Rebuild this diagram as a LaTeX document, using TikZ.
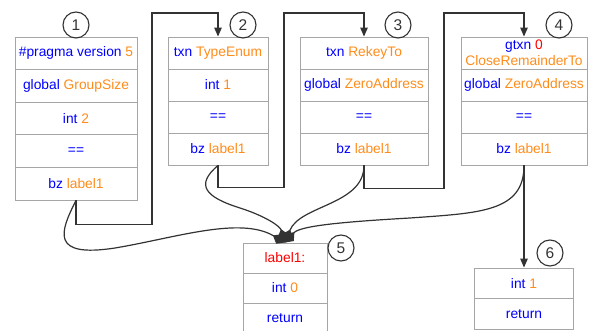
\documentclass[tikz,border=0pt]{standalone}
\usepackage{fontspec}
\setmainfont{Liberation Sans}
\usetikzlibrary{arrows.meta}
\definecolor{kwblue}{HTML}{0000FF}
\definecolor{litorange}{HTML}{FF8C1A}
\definecolor{lblred}{HTML}{FF0000}
\definecolor{edgegray}{HTML}{333333}
\definecolor{boxgray}{HTML}{A6A6A6}
\newcommand{\kw}[1]{\textcolor{kwblue}{#1}}
\newcommand{\lit}[1]{\textcolor{litorange}{#1}}
\newcommand{\lbl}[1]{\textcolor{lblred}{#1}}
\tikzset{>/.tip={Triangle[length=9pt,width=7.5pt]},
  row/.style={draw=boxgray, line width=0.9pt, inner sep=0pt, align=center,
    font=\fontsize{13.8}{15.5}\selectfont},
  numc/.style={circle, draw=edgegray, line width=1.1pt, minimum size=26, inner sep=0pt,
    text=edgegray, font=\fontsize{15.5}{17}\selectfont},
  flow/.style={draw=edgegray, line width=1.2pt, ->},
  merge/.style={draw=edgegray, line width=1.2pt, -{Diamond[length=14pt,width=11pt]}}}

\begin{document}
\begin{tikzpicture}[x=1pt, y=-1pt]
\useasboundingbox (0,0) rectangle (590,331);
\foreach \txt [count=\i] in {{\kw{\#pragma version} \lit{5}}, {\kw{global} \lit{GroupSize}},
  {\kw{int} \lit{2}}, \kw{==}, {\kw{bz} \lit{label1}}}
  \node[row, minimum width=122, minimum height=32.6] (p1-\i) at (76,{37+32.6*(\i-0.5)}) {\txt};
\foreach \txt [count=\i] in {{\kw{txn} \lit{TypeEnum}}, {\kw{int} \lit{1}}, \kw{==}, {\kw{bz} \lit{label1}}}
  \node[row, minimum width=100, minimum height=32] (p2-\i) at (218,{37+32*(\i-0.5)}) {\txt};
\foreach \txt [count=\i] in {{\kw{txn} \lit{RekeyTo}}, {\kw{global} \lit{ZeroAddress}}, \kw{==}, {\kw{bz} \lit{label1}}}
  \node[row, minimum width=128, minimum height=32] (p3-\i) at (364,{37+32*(\i-0.5)}) {\txt};
\foreach \txt [count=\i] in {{\kw{gtxn} \lbl{0}\\\lit{CloseRemainderTo}}, {\kw{global} \lit{ZeroAddress}}, \kw{==}, {\kw{bz} \lit{label1}}}
  \node[row, minimum width=126, minimum height=32] (p4-\i) at (524,{37+32*(\i-0.5)}) {\txt};
\foreach \txt [count=\i] in {\lbl{label1:}, {\kw{int} \lit{0}}, \kw{return}}
  \node[row, minimum width=84, minimum height=30] (p5-\i) at (285,{243+30*(\i-0.5)}) {\txt};
\foreach \txt [count=\i] in {{\kw{int} \lit{1}}, \kw{return}}
  \node[row, minimum width=99, minimum height=30.5] (p6-\i) at (524,{268+30.5*(\i-0.5)}) {\txt};
\foreach \n/\x/\y in {1/76/25, 2/243/25, 3/398/25, 4/559/25, 5/341/248, 6/550/253}
  \node[numc] (c\n) at (\x,\y) {\n};
\coordinate (t1) at (152,13);
\coordinate (t2) at (284,13);
\coordinate (t3) at (444,13);
\draw[flow] (p1-5.south) -- ++(0,24) -| (t1) -| (p2-1.north);
\draw[flow] (p2-4.south) -- ++(0,22) -| (t2) -| (p3-1.north);
\draw[flow] (p3-4.south) -- ++(0,23) -| (t3) -| (p4-1.north);
\draw[flow] (p4-4.south) -- (p6-1.north);
\draw[merge] (p1-5.south) .. controls (60,232) and (50,258) .. (115,248)
  .. controls (175,238) and (240,216) .. (p5-1.north);
\draw[merge] (p2-4.south) .. controls (195,185) and (205,197) .. (240,208)
  .. controls (265,216) and (280,226) .. (p5-1.north);
\draw[merge] (p3-4.south) .. controls (364,205) and (300,205) .. (p5-1.north);
\draw[merge] (p4-4.south) .. controls (524,212) and (480,213) .. (410,218)
  .. controls (340,222) and (300,226) .. (p5-1.north);
\end{tikzpicture}
\end{document}
